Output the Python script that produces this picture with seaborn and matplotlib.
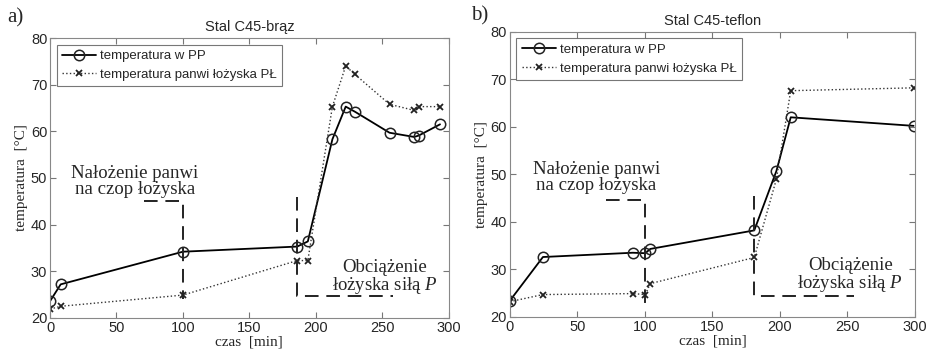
import matplotlib
matplotlib.use("Agg")
import matplotlib.pyplot as plt
import seaborn as sns
import pandas as pd

# --- dane: Stal C45-brąz ---
t_braz = [0, 8, 100, 186, 194, 212.5, 222.5, 229.5, 255.5, 274, 277.5, 293.5]
pp_braz = [23.6, 27.2, 34.2, 35.3, 36.4, 58.3, 65.3, 64.2, 59.7, 58.8, 59.1, 61.5]
pl_braz = [21.9, 22.5, 24.9, 32.3, 32.3, 65.3, 74.0, 72.2, 65.8, 64.5, 65.3, 65.3]

# --- dane: Stal C45-teflon ---
t_tef = [0, 24.5, 91, 100.3, 104, 181, 197.4, 208, 299]
pp_tef = [23.4, 32.6, 33.5, 33.4, 34.3, 38.2, 50.7, 62.0, 60.2]
pl_tef = [23.2, 24.7, 24.9, 24.7, 27.0, 32.5, 49.0, 67.6, 68.2]

# linie przerywane (oznaczenia zdarzeń)
zd1_braz_x = [70.5, 100, 100]
zd1_braz_y = [45, 45, 24]
zd2_braz_x = [186, 186, 258]
zd2_braz_y = [46, 24.8, 24.8]
zd1_tef_x = [71, 100, 100]
zd1_tef_y = [44.7, 44.7, 21.5]
zd2_tef_x = [181, 181, 255]
zd2_tef_y = [45.5, 24.4, 24.4]

LBL_PP = "temperatura w PP"
LBL_PL = "temperatura panwi łożyska PŁ"

sns.set_style("ticks")
plt.rcParams['font.family'] = ['Liberation Sans', 'DejaVu Sans']
plt.rcParams['mathtext.fontset'] = 'custom'
plt.rcParams['mathtext.it'] = 'Liberation Serif:italic'
plt.rcParams['mathtext.rm'] = 'Liberation Serif'
SERIF = ['Liberation Serif', 'DejaVu Serif']

fig = plt.figure(figsize=(9.27, 3.49), dpi=100)
ax1 = fig.add_axes([0.054, 0.089, 0.430, 0.802])
ax2 = fig.add_axes([0.550, 0.092, 0.437, 0.817])


def rysuj(ax, t, pp, pl, z1x, z1y, z2x, z2y, tytul, litera, lx, ly):
    df = pd.DataFrame({'t': t, 'pp': pp, 'pl': pl})
    sns.lineplot(data=df, x='t', y='pp', ax=ax, estimator=None, sort=False,
                 color='black', lw=1.3, marker='o', markersize=7.5,
                 markerfacecolor='none', markeredgecolor='#222222',
                 markeredgewidth=1.1, label=LBL_PP)
    sns.lineplot(data=df, x='t', y='pl', ax=ax, estimator=None, sort=False,
                 color='#333333', lw=1.0, linestyle=':', marker='x',
                 markersize=4, markeredgewidth=1.3, markeredgecolor='#222222',
                 label=LBL_PL)
    ax.plot(z1x, z1y, color='#222222', lw=1.4, dashes=(7, 4))
    ax.plot(z2x, z2y, color='#222222', lw=1.4, dashes=(7, 4))

    ax.text(64, 49.3, "Nałożenie panwi\nna czop łożyska", family=SERIF,
            fontsize=13.5, ha='center', va='center', linespacing=0.95)
    ax.text(252, 28.7, "Obciążenie\nłożyska siłą $\\mathit{P}$", family=SERIF,
            fontsize=13.5, ha='center', va='center', linespacing=0.95)

    ax.set_xlim(0, 300)
    ax.set_ylim(20, 80)
    ax.set_xticks(range(0, 301, 50))
    ax.set_yticks(range(20, 81, 10))
    ax.tick_params(direction='in', top=True, right=True, labelsize=10.5,
                   length=4, color='#777777', pad=2)
    for s in ax.spines.values():
        s.set_color('#888888')
        s.set_linewidth(0.8)
    ax.set_xlabel("czas  [min]", family=SERIF, fontsize=11, labelpad=0.5)
    ax.set_ylabel("temperatura  [°C]", family=SERIF, fontsize=11, labelpad=2)
    ax.set_title(tytul, fontsize=10.5, pad=5)
    leg = ax.legend(loc='upper left', fontsize=9.5, frameon=True, fancybox=False,
                    borderpad=0.4, handlelength=2.6, labelspacing=0.5,
                    handletextpad=0.3, borderaxespad=0.5)
    leg.get_frame().set_edgecolor('#555555')
    leg.get_frame().set_linewidth(0.8)
    fig.text(lx, ly, litera, family=SERIF, fontsize=15, ha='left', va='center')


rysuj(ax1, t_braz, pp_braz, pl_braz, zd1_braz_x, zd1_braz_y, zd2_braz_x,
      zd2_braz_y, "Stal C45-brąz", "a)", 0.008, 0.948)
rysuj(ax2, t_tef, pp_tef, pl_tef, zd1_tef_x, zd1_tef_y, zd2_tef_x,
      zd2_tef_y, "Stal C45-teflon", "b)", 0.508, 0.955)

fig.savefig("out.png", dpi=100)
